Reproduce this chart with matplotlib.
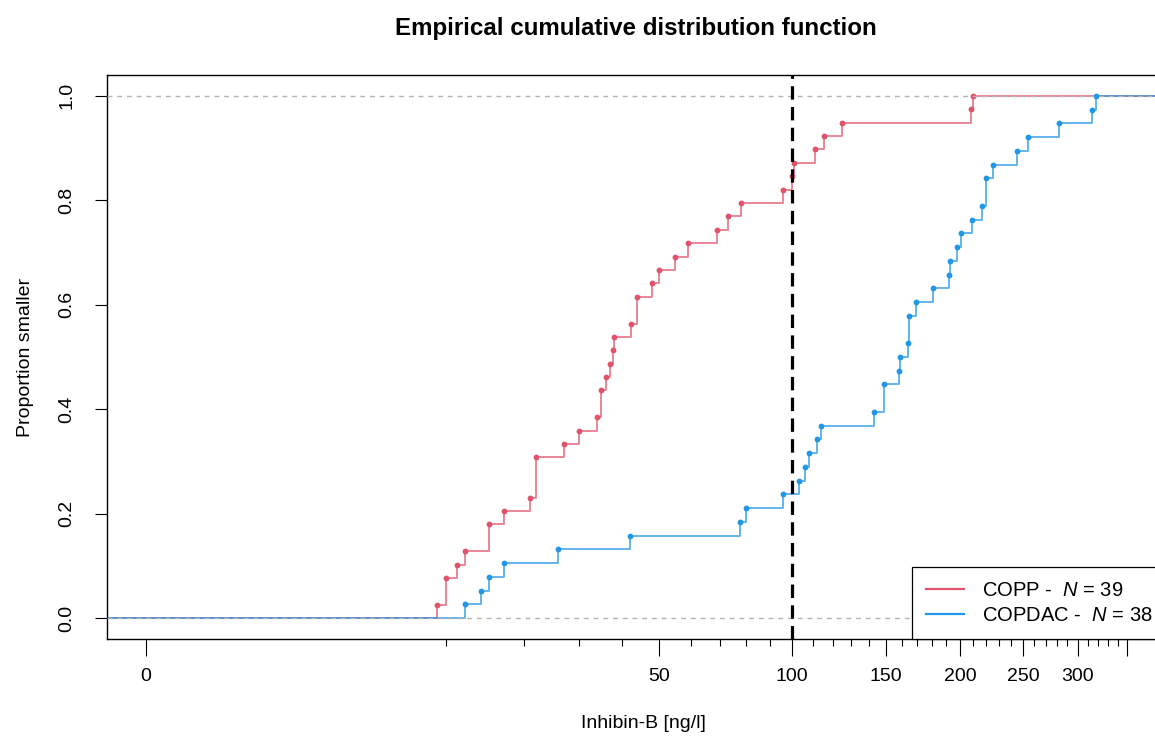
import numpy as np
import matplotlib
matplotlib.use("Agg")
import matplotlib.pyplot as plt
from matplotlib.lines import Line2D

plt.rcParams['font.family'] = ['Liberation Sans', 'DejaVu Sans']
plt.rcParams['mathtext.fontset'] = 'custom'
plt.rcParams['mathtext.rm'] = 'Liberation Sans'
plt.rcParams['mathtext.it'] = 'Liberation Sans:italic'

# Inhibin-B values (ties repeated)
copp = [9.1, 10, 10, 11.1, 12, 15, 15, 17, 21, 22, 22, 22, 27, 30, 34, 35, 35,
        36, 37, 37.7, 38, 42.4, 44, 44, 48, 50, 55, 59, 69, 73, 78, 96, 100,
        101, 111, 115.5, 125, 208, 210]
copdac = [12, 14, 15, 17, 26, 42, 77.6, 80, 96, 103, 106, 108, 112, 114, 143,
          149, 149, 158, 159, 164, 165, 165, 169, 181, 192, 193, 198, 200.5,
          209, 217, 220, 220, 225, 245, 254, 282, 314, 318]
groups = ["COPP", "COPDAC"]
colors = ["#DF536B", "#2297E6"]
cutoff = 100

major_ticks = [0, 50, 100, 150, 200, 250, 300, 350]
major_labels = ["0", "50", "100", "150", "200", "250", "300", ""]
minor_ticks = [10, 20, 30, 40, 60, 70, 80, 90] + \
    [v for v in range(110, 350, 10) if v % 50 != 0]
y_ticks = [0, 0.2, 0.4, 0.6, 0.8, 1.0]

fig = plt.figure(figsize=(11.55, 7.36), dpi=100)
W, H = 1155, 736
x_left, x_right, y_top, y_bot = 107, 1180, 75, 639
ax = fig.add_axes([x_left / W, (H - y_bot) / H, (x_right - x_left) / W, (y_bot - y_top) / H])

# cube root x-axis
ax.set_xscale('function', functions=(np.cbrt, lambda v: v ** 3))
px_per = 139.2
lo = -((146 - x_left) / px_per) ** 3
hi = ((x_right - 146) / px_per) ** 3
ax.set_xlim(lo, hi)
ax.set_ylim(-0.04, 1.04)

for vals, col in zip([copp, copdac], colors):
    knots, counts = np.unique(vals, return_counts=True)
    y = np.cumsum(counts) / len(vals)
    xs = np.concatenate([[lo], knots, [hi]])
    ys = np.concatenate([[0], y, [y[-1]]])
    ax.step(xs, ys, where='post', color=col, lw=1.4, alpha=0.7, zorder=2)
    ax.plot(knots, y, 'o', color=col, ms=4.2, mew=0, zorder=3)

# 0 and 1 reference lines
for h in [0, 1]:
    ax.axhline(h, color='#B3B3B3', lw=1.0, ls=(0, (3.5, 3.5)), zorder=4)

ax.axvline(cutoff, color='black', lw=2.3, ls=(0, (4.2, 2.3)), zorder=5)

ax.set_xticks(major_ticks)
ax.set_xticklabels(major_labels)
ax.set_xticks(minor_ticks, minor=True)
ax.set_yticks(y_ticks)
ax.set_yticklabels(["0.0", "0.2", "0.4", "0.6", "0.8", "1.0"])
ax.tick_params(axis='x', which='major', length=12, width=0.8, labelsize=14, pad=9)
ax.tick_params(axis='x', which='minor', length=5, width=0.8)
ax.tick_params(axis='y', length=9, width=0.8, labelsize=14, pad=14)
for lab in ax.get_yticklabels():
    lab.set_rotation(90)
    lab.set_va('center')
    lab.set_ha('right')
for s in ax.spines.values():
    s.set_linewidth(1.0)

ax.set_xlabel("Inhibin-B [ng/l]", fontsize=14, labelpad=21.5)
ax.set_ylabel("Proportion smaller", fontsize=14, labelpad=17)
fig.text(0.5 * (x_left + 1165) / W, 1 - 28.5 / H, "Empirical cumulative distribution function",
         ha='center', va='center', fontsize=17.4, fontweight='bold')

handles = [Line2D([], [], color=c, lw=1.6) for c in colors]
labels = [f"{g} -  $N$ = {len(v)}" for g, v in zip(groups, [copp, copdac])]
leg = ax.legend(handles, labels, loc='lower left', bbox_to_anchor=((912 - x_left) / (x_right - x_left), 0),
                borderaxespad=0, frameon=True, fancybox=False, edgecolor='black', framealpha=1,
                fontsize=14.5, handlelength=1.9, handletextpad=0.9, labelspacing=0.3, borderpad=0.7)
leg.get_frame().set_linewidth(0.9)
leg.set_zorder(6)

fig.savefig("out.png", dpi=100)
